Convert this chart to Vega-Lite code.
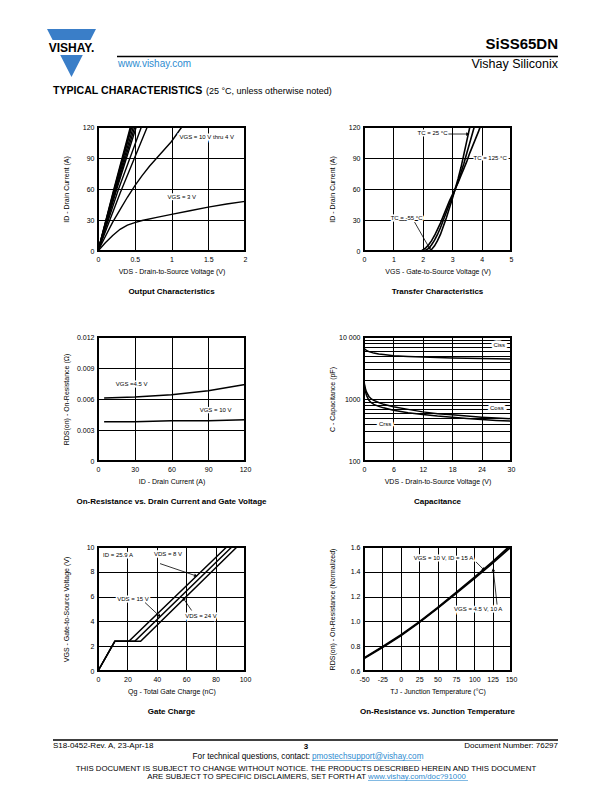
{
"$schema":"https://vega.github.io/schema/vega-lite/v6.json",
"autosize":{"type":"pad"},
"padding":{"left":47,"top":27,"right":10,"bottom":4},
"config":{
 "font":"Liberation Sans",
 "view":{"stroke":"black","strokeWidth":2},
 "axis":{"grid":true,"gridColor":"black","gridWidth":1,"gridOpacity":1,"domain":false,"ticks":false,"labelFontSize":7,"labelColor":"black","labelFont":"Liberation Sans","labelOverlap":false,"labelFlush":false,"titleFontSize":7,"titleFontWeight":"normal","titleColor":"black","titleFont":"Liberation Sans","labelPadding":4},
 "axisX":{"titleY":16},
 "axisY":{"titleX":-29},
 "title":{"orient":"bottom","fontSize":8,"fontWeight":"bold","color":"black","offset":14,"anchor":"middle","font":"Liberation Sans"},
 "text":{"color":"black"}
},
"datasets":{
 "output":[
  {"vds":0,"id":0,"s":"10"},{"vds":0.22,"id":61,"s":"10"},{"vds":0.44,"id":120,"s":"10"},
  {"vds":0,"id":0,"s":"9"},{"vds":0.225,"id":61,"s":"9"},{"vds":0.45,"id":120,"s":"9"},
  {"vds":0,"id":0,"s":"8"},{"vds":0.23,"id":61,"s":"8"},{"vds":0.46,"id":120,"s":"8"},
  {"vds":0,"id":0,"s":"7"},{"vds":0.24,"id":61,"s":"7"},{"vds":0.48,"id":120,"s":"7"},
  {"vds":0,"id":0,"s":"6"},{"vds":0.25,"id":61,"s":"6"},{"vds":0.5,"id":120,"s":"6"},
  {"vds":0,"id":0,"s":"5.5"},{"vds":0.26,"id":61,"s":"5.5"},{"vds":0.52,"id":120,"s":"5.5"},
  {"vds":0,"id":0,"s":"5"},{"vds":0.28,"id":60,"s":"5"},{"vds":0.59,"id":120,"s":"5"},
  {"vds":0,"id":0,"s":"4.5"},{"vds":0.3,"id":56,"s":"4.5"},{"vds":0.67,"id":120,"s":"4.5"},
  {"vds":0,"id":0,"s":"4"},{"vds":0.1,"id":14,"s":"4"},{"vds":0.2,"id":28,"s":"4"},{"vds":0.3,"id":40,"s":"4"},{"vds":0.4,"id":52,"s":"4"},{"vds":0.5,"id":63,"s":"4"},{"vds":0.6,"id":73,"s":"4"},{"vds":0.7,"id":82,"s":"4"},{"vds":0.8,"id":90,"s":"4"},{"vds":0.9,"id":98,"s":"4"},{"vds":1.0,"id":106,"s":"4"},{"vds":1.14,"id":120,"s":"4"},
  {"vds":0,"id":0,"s":"3"},{"vds":0.1,"id":8,"s":"3"},{"vds":0.2,"id":15,"s":"3"},{"vds":0.3,"id":21,"s":"3"},{"vds":0.4,"id":25,"s":"3"},{"vds":0.5,"id":27.5,"s":"3"},{"vds":0.6,"id":29.5,"s":"3"},{"vds":0.8,"id":32.5,"s":"3"},{"vds":1.0,"id":35.5,"s":"3"},{"vds":1.25,"id":39,"s":"3"},{"vds":1.5,"id":42.5,"s":"3"},{"vds":1.75,"id":45.5,"s":"3"},{"vds":2.0,"id":48,"s":"3"}
 ],
 "outputLabels":[{"vds":1.48,"id":110,"t":"VGS = 10 V thru 4 V"},{"vds":1.14,"id":52.3,"t":"VGS = 3 V"}],
 "transfer":[
  {"vgs":2.2,"id":0,"tc":"-55"},{"vgs":2.3,"id":1.5,"tc":"-55"},{"vgs":2.4,"id":5,"tc":"-55"},{"vgs":2.5,"id":10,"tc":"-55"},{"vgs":2.6,"id":16,"tc":"-55"},{"vgs":2.7,"id":24,"tc":"-55"},{"vgs":2.8,"id":32,"tc":"-55"},{"vgs":2.9,"id":41,"tc":"-55"},{"vgs":3.0,"id":50,"tc":"-55"},{"vgs":3.1,"id":60,"tc":"-55"},{"vgs":3.2,"id":70,"tc":"-55"},{"vgs":3.3,"id":81,"tc":"-55"},{"vgs":3.4,"id":94,"tc":"-55"},{"vgs":3.5,"id":107,"tc":"-55"},{"vgs":3.6,"id":120,"tc":"-55"},
  {"vgs":2.05,"id":0,"tc":"25"},{"vgs":2.2,"id":2.5,"tc":"25"},{"vgs":2.3,"id":6,"tc":"25"},{"vgs":2.4,"id":10.5,"tc":"25"},{"vgs":2.5,"id":16,"tc":"25"},{"vgs":2.6,"id":22.5,"tc":"25"},{"vgs":2.7,"id":30,"tc":"25"},{"vgs":2.8,"id":37.5,"tc":"25"},{"vgs":2.9,"id":45,"tc":"25"},{"vgs":3.0,"id":52,"tc":"25"},{"vgs":3.1,"id":59.5,"tc":"25"},{"vgs":3.2,"id":67,"tc":"25"},{"vgs":3.3,"id":76,"tc":"25"},{"vgs":3.4,"id":85,"tc":"25"},{"vgs":3.5,"id":95,"tc":"25"},{"vgs":3.6,"id":105,"tc":"25"},{"vgs":3.75,"id":120,"tc":"25"},
  {"vgs":1.95,"id":0,"tc":"125"},{"vgs":2.1,"id":3,"tc":"125"},{"vgs":2.2,"id":6,"tc":"125"},{"vgs":2.3,"id":10,"tc":"125"},{"vgs":2.4,"id":15,"tc":"125"},{"vgs":2.5,"id":21,"tc":"125"},{"vgs":2.6,"id":27,"tc":"125"},{"vgs":2.7,"id":34,"tc":"125"},{"vgs":2.8,"id":41,"tc":"125"},{"vgs":2.9,"id":48,"tc":"125"},{"vgs":3.0,"id":54,"tc":"125"},{"vgs":3.1,"id":60,"tc":"125"},{"vgs":3.2,"id":66,"tc":"125"},{"vgs":3.3,"id":73,"tc":"125"},{"vgs":3.4,"id":80,"tc":"125"},{"vgs":3.5,"id":87,"tc":"125"},{"vgs":3.6,"id":95,"tc":"125"},{"vgs":3.7,"id":102,"tc":"125"},{"vgs":3.8,"id":109,"tc":"125"},{"vgs":3.9,"id":116,"tc":"125"},{"vgs":3.95,"id":120,"tc":"125"}
 ],
 "transferLabels":[{"vgs":2.33,"id":114.2,"t":"TC = 25 °C"},{"vgs":4.29,"id":90,"t":"TC = 125 °C"},{"vgs":1.45,"id":32,"t":"TC = -55 °C"}],
 "transferArrows":[{"vgs":2.87,"id":113.2,"vgs2":3.5,"id2":113.2},{"vgs":1.72,"id":28,"vgs2":2.22,"id2":3}],
 "transferHeads":[{"vgs":3.53,"id":113.2,"ang":90},{"vgs":2.24,"id":2.5,"ang":153}],
 "rdson":[
  {"i":5,"r":0.0061,"g":"4.5"},{"i":30,"r":0.0062,"g":"4.5"},{"i":60,"r":0.0064,"g":"4.5"},{"i":90,"r":0.0068,"g":"4.5"},{"i":120,"r":0.0074,"g":"4.5"},
  {"i":5,"r":0.0038,"g":"10"},{"i":30,"r":0.0038,"g":"10"},{"i":60,"r":0.0039,"g":"10"},{"i":90,"r":0.0039,"g":"10"},{"i":120,"r":0.0040,"g":"10"}
 ],
 "rdsonLabels":[{"i":27.5,"r":0.00742,"t":"VGS =4.5 V"},{"i":96,"r":0.00496,"t":"VGS = 10 V"}],
 "cap":[
  {"v":0,"c":6500,"k":"Ciss"},{"v":0.5,"c":6100,"k":"Ciss"},{"v":1,"c":5800,"k":"Ciss"},{"v":2,"c":5500,"k":"Ciss"},{"v":3,"c":5300,"k":"Ciss"},{"v":4,"c":5200,"k":"Ciss"},{"v":6,"c":5000,"k":"Ciss"},{"v":9,"c":4850,"k":"Ciss"},{"v":12,"c":4750,"k":"Ciss"},{"v":15,"c":4650,"k":"Ciss"},{"v":18,"c":4600,"k":"Ciss"},{"v":21,"c":4550,"k":"Ciss"},{"v":24,"c":4500,"k":"Ciss"},{"v":27,"c":4450,"k":"Ciss"},{"v":30,"c":4400,"k":"Ciss"},
  {"v":0,"c":1900,"k":"Coss"},{"v":0.25,"c":1500,"k":"Coss"},{"v":0.5,"c":1300,"k":"Coss"},{"v":1,"c":1100,"k":"Coss"},{"v":1.5,"c":1000,"k":"Coss"},{"v":2,"c":950,"k":"Coss"},{"v":3,"c":880,"k":"Coss"},{"v":4,"c":820,"k":"Coss"},{"v":6,"c":750,"k":"Coss"},{"v":9,"c":680,"k":"Coss"},{"v":12,"c":620,"k":"Coss"},{"v":15,"c":580,"k":"Coss"},{"v":18,"c":555,"k":"Coss"},{"v":21,"c":530,"k":"Coss"},{"v":24,"c":510,"k":"Coss"},{"v":27,"c":495,"k":"Coss"},{"v":30,"c":480,"k":"Coss"},
  {"v":0,"c":1800,"k":"Crss"},{"v":0.25,"c":1350,"k":"Crss"},{"v":0.5,"c":1150,"k":"Crss"},{"v":1,"c":950,"k":"Crss"},{"v":1.5,"c":870,"k":"Crss"},{"v":2,"c":820,"k":"Crss"},{"v":3,"c":760,"k":"Crss"},{"v":4,"c":720,"k":"Crss"},{"v":6,"c":660,"k":"Crss"},{"v":9,"c":600,"k":"Crss"},{"v":12,"c":560,"k":"Crss"},{"v":15,"c":530,"k":"Crss"},{"v":18,"c":510,"k":"Crss"},{"v":21,"c":485,"k":"Crss"},{"v":24,"c":465,"k":"Crss"},{"v":27,"c":450,"k":"Crss"},{"v":30,"c":440,"k":"Crss"}
 ],
 "capLabels":[{"v":27.6,"c":7350,"t":"Ciss"},{"v":27.1,"c":724,"t":"Coss"},{"v":4.3,"c":391,"t":"Crss"}],
 "gate":[
  {"q":0,"g":0,"d":"8"},{"q":11.5,"g":2.4,"d":"8"},{"q":21,"g":2.4,"d":"8"},{"q":87.5,"g":10,"d":"8"},
  {"q":0,"g":0,"d":"15"},{"q":11.5,"g":2.4,"d":"15"},{"q":25,"g":2.4,"d":"15"},{"q":91,"g":10,"d":"15"},
  {"q":0,"g":0,"d":"24"},{"q":11.5,"g":2.4,"d":"24"},{"q":29,"g":2.4,"d":"24"},{"q":94.5,"g":10,"d":"24"}
 ],
 "gateLabels":[{"q":13.6,"g":9.36,"t":"ID = 25.9 A"},{"q":47.6,"g":9.44,"t":"VDS = 8 V"},{"q":23.8,"g":5.84,"t":"VDS = 15 V"},{"q":70,"g":4.4,"t":"VDS = 24 V"}],
 "gateArrows":[{"q":42.2,"g":8.66,"q2":65.5,"g2":7.72},{"q":32,"g":5.52,"q2":41.2,"g2":4.5},{"q":63.7,"g":4.88,"q2":58.6,"g2":5.76}],
 "gateHeads":[{"q":66.5,"g":7.68,"ang":109},{"q":41.8,"g":4.44,"ang":133},{"q":58.2,"g":5.83,"ang":-34}],
 "temp":[
  {"tj":-50,"rn":0.70,"c":"10V"},{"tj":-25,"rn":0.79,"c":"10V"},{"tj":0,"rn":0.885,"c":"10V"},{"tj":25,"rn":0.99,"c":"10V"},{"tj":50,"rn":1.105,"c":"10V"},{"tj":75,"rn":1.225,"c":"10V"},{"tj":100,"rn":1.345,"c":"10V"},{"tj":125,"rn":1.47,"c":"10V"},{"tj":150,"rn":1.6,"c":"10V"},
  {"tj":-50,"rn":0.705,"c":"4.5V"},{"tj":-25,"rn":0.795,"c":"4.5V"},{"tj":0,"rn":0.89,"c":"4.5V"},{"tj":25,"rn":0.995,"c":"4.5V"},{"tj":50,"rn":1.11,"c":"4.5V"},{"tj":75,"rn":1.232,"c":"4.5V"},{"tj":100,"rn":1.355,"c":"4.5V"},{"tj":125,"rn":1.482,"c":"4.5V"},{"tj":147,"rn":1.6,"c":"4.5V"}
 ],
 "tempLabels":[{"tj":58,"rn":1.512,"t":"VGS = 10 V, ID = 15 A"},{"tj":105.4,"rn":1.096,"t":"VGS = 4.5 V, 10 A"}],
 "tempArrows":[{"tj":102.3,"rn":1.48,"tj2":112.5,"rn2":1.42},{"tj":131,"rn":1.136,"tj2":126,"rn2":1.41}],
 "tempHeads":[{"tj":113,"rn":1.418,"ang":134},{"tj":125.8,"rn":1.416,"ang":-6.5}]
},
"columns":2,
"spacing":{"row":86,"column":119},
"bounds":"flush",
"concat":[
 {
  "width":147,"height":14,"view":{"stroke":null},
  "encoding":{
   "x":{"field":"x","type":"quantitative","scale":{"domain":[0,147],"nice":false,"zero":false},"axis":null},
   "y":{"field":"y","type":"quantitative","scale":{"domain":[0,14],"nice":false,"zero":false,"reverse":true},"axis":null}
  },
  "layer":[
   {"data":{"values":[{"x":-26.5,"y":26}]},"mark":{"type":"point","filled":true,"opacity":1,"color":"#3a7ec8","strokeWidth":0,"size":2401,"shape":"M-1,-0.98L1,-0.98L0.77,-0.53L-0.77,-0.53Z M-0.46,0.08L0.46,0.08L0,0.98Z"}},
   {"data":{"values":[{"x":-26.5,"y":25,"t":"VISHAY."}]},"mark":{"type":"text","fontSize":12,"fontWeight":"bold","align":"center","baseline":"alphabetic"},"encoding":{"text":{"field":"t"}}},
   {"data":{"values":[{"x":19,"x2":460,"y":29.5}]},"mark":{"type":"rule","strokeWidth":1.5,"color":"black"},"encoding":{"x2":{"field":"x2"}}},
   {"data":{"values":[{"x":20,"y":39.5,"t":"www.vishay.com"}]},"mark":{"type":"text","fontSize":10,"color":"#2e8bd0","align":"left","baseline":"alphabetic"},"encoding":{"text":{"field":"t"}}},
   {"data":{"values":[{"x":-45,"y":67,"t":"TYPICAL CHARACTERISTICS"}]},"mark":{"type":"text","fontSize":10.6,"fontWeight":"bold","align":"left","baseline":"alphabetic"},"encoding":{"text":{"field":"t"}}},
   {"data":{"values":[{"x":108,"y":67,"t":"(25 °C, unless otherwise noted)"}]},"mark":{"type":"text","fontSize":9,"align":"left","baseline":"alphabetic"},"encoding":{"text":{"field":"t"}}}
  ]
 },
 {
  "width":147,"height":14,"view":{"stroke":null},
  "encoding":{
   "x":{"field":"x","type":"quantitative","scale":{"domain":[0,147],"nice":false,"zero":false},"axis":null},
   "y":{"field":"y","type":"quantitative","scale":{"domain":[0,14],"nice":false,"zero":false,"reverse":true},"axis":null}
  },
  "layer":[
   {"data":{"values":[{"x":194,"y":22,"t":"SiSS65DN"}]},"mark":{"type":"text","fontSize":15,"fontWeight":"bold","align":"right","baseline":"alphabetic"},"encoding":{"text":{"field":"t"}}},
   {"data":{"values":[{"x":194,"y":40.5,"t":"Vishay Siliconix"}]},"mark":{"type":"text","fontSize":12.5,"align":"right","baseline":"alphabetic"},"encoding":{"text":{"field":"t"}}}
  ]
 },
 {
  "width":147,"height":124,"title":"Output Characteristics",
  "encoding":{
   "x":{"field":"vds","type":"quantitative","scale":{"domain":[0,2],"nice":false},"axis":{"values":[0,0.5,1,1.5,2],"labelExpr":"datum.value + ''","title":"VDS - Drain-to-Source Voltage (V)"}},
   "y":{"field":"id","type":"quantitative","scale":{"domain":[0,120],"nice":false},"axis":{"values":[0,30,60,90,120],"title":"ID - Drain Current (A)"}}
  },
  "layer":[
   {"data":{"name":"output"},"mark":{"type":"line","strokeWidth":1.4,"color":"black"},"encoding":{"detail":{"field":"s"}}},
   {"data":{"name":"outputLabels"},"mark":{"type":"text","fontSize":6,"fill":"white","stroke":"white","strokeWidth":3},"encoding":{"text":{"field":"t"}}},
   {"data":{"name":"outputLabels"},"mark":{"type":"text","fontSize":6,"color":"black"},"encoding":{"text":{"field":"t"}}}
  ]
 },
 {
  "width":147,"height":124,"title":"Transfer Characteristics",
  "encoding":{
   "x":{"field":"vgs","type":"quantitative","scale":{"domain":[0,5],"nice":false},"axis":{"values":[0,1,2,3,4,5],"title":"VGS - Gate-to-Source Voltage (V)"}},
   "y":{"field":"id","type":"quantitative","scale":{"domain":[0,120],"nice":false},"axis":{"values":[0,30,60,90,120],"title":"ID - Drain Current (A)"}}
  },
  "layer":[
   {"data":{"name":"transfer"},"mark":{"type":"line","strokeWidth":1.6,"color":"black"},"encoding":{"detail":{"field":"tc"}}},
   {"data":{"name":"transferLabels"},"mark":{"type":"text","fontSize":6,"fill":"white","stroke":"white","strokeWidth":3},"encoding":{"text":{"field":"t"}}},
   {"data":{"name":"transferLabels"},"mark":{"type":"text","fontSize":6,"color":"black"},"encoding":{"text":{"field":"t"}}},
   {"data":{"name":"transferArrows"},"mark":{"type":"rule","color":"black","strokeWidth":0.8},"encoding":{"x2":{"field":"vgs2"},"y2":{"field":"id2"}}},
   {"data":{"name":"transferHeads"},"mark":{"type":"point","shape":"triangle-up","filled":true,"opacity":1,"color":"black","size":14},"encoding":{"angle":{"field":"ang","type":"quantitative","scale":null}}}
  ]
 },
 {
  "width":147,"height":124,"title":"On-Resistance vs. Drain Current and Gate Voltage",
  "encoding":{
   "x":{"field":"i","type":"quantitative","scale":{"domain":[0,120],"nice":false},"axis":{"values":[0,30,60,90,120],"title":"ID - Drain Current (A)"}},
   "y":{"field":"r","type":"quantitative","scale":{"domain":[0,0.012],"nice":false},"axis":{"values":[0,0.003,0.006,0.009,0.012],"labelExpr":"datum.value == 0 ? '0' : format(datum.value, '.3f')","title":"RDS(on) - On-Resistance (Ω)"}}
  },
  "layer":[
   {"data":{"name":"rdson"},"mark":{"type":"line","strokeWidth":1.5,"color":"black"},"encoding":{"detail":{"field":"g"}}},
   {"data":{"name":"rdsonLabels"},"mark":{"type":"text","fontSize":6,"fill":"white","stroke":"white","strokeWidth":3},"encoding":{"text":{"field":"t"}}},
   {"data":{"name":"rdsonLabels"},"mark":{"type":"text","fontSize":6,"color":"black"},"encoding":{"text":{"field":"t"}}}
  ]
 },
 {
  "width":147,"height":124,"title":"Capacitance",
  "encoding":{
   "x":{"field":"v","type":"quantitative","scale":{"domain":[0,30],"nice":false},"axis":{"values":[0,6,12,18,24,30],"title":"VDS - Drain-to-Source Voltage (V)"}},
   "y":{"field":"c","type":"quantitative","scale":{"type":"log","domain":[100,10000],"nice":false},"axis":{"values":[100,200,300,400,500,600,700,800,900,1000,2000,3000,4000,5000,6000,7000,8000,9000,10000],"labelExpr":"datum.value == 10000 ? '10 000' : (datum.value == 1000 || datum.value == 100) ? '' + datum.value : ''","title":"C - Capacitance (pF)"}}
  },
  "layer":[
   {"data":{"name":"cap"},"mark":{"type":"line","strokeWidth":1.5,"color":"black"},"encoding":{"detail":{"field":"k"}}},
   {"data":{"name":"capLabels"},"mark":{"type":"text","fontSize":6,"fill":"white","stroke":"white","strokeWidth":5},"encoding":{"text":{"field":"t"}}},
   {"data":{"name":"capLabels"},"mark":{"type":"text","fontSize":6,"color":"black"},"encoding":{"text":{"field":"t"}}}
  ]
 },
 {
  "width":147,"height":124,"title":"Gate Charge",
  "encoding":{
   "x":{"field":"q","type":"quantitative","scale":{"domain":[0,100],"nice":false},"axis":{"values":[0,20,40,60,80,100],"title":"Qg - Total Gate Charge (nC)"}},
   "y":{"field":"g","type":"quantitative","scale":{"domain":[0,10],"nice":false},"axis":{"values":[0,2,4,6,8,10],"title":"VGS - Gate-to-Source Voltage (V)"}}
  },
  "layer":[
   {"data":{"name":"gate"},"mark":{"type":"line","strokeWidth":1.5,"color":"black"},"encoding":{"detail":{"field":"d"}}},
   {"data":{"name":"gateLabels"},"mark":{"type":"text","fontSize":6,"fill":"white","stroke":"white","strokeWidth":3},"encoding":{"text":{"field":"t"}}},
   {"data":{"name":"gateLabels"},"mark":{"type":"text","fontSize":6,"color":"black"},"encoding":{"text":{"field":"t"}}},
   {"data":{"name":"gateArrows"},"mark":{"type":"rule","color":"black","strokeWidth":0.8},"encoding":{"x2":{"field":"q2"},"y2":{"field":"g2"}}},
   {"data":{"name":"gateHeads"},"mark":{"type":"point","shape":"triangle-up","filled":true,"opacity":1,"color":"black","size":14},"encoding":{"angle":{"field":"ang","type":"quantitative","scale":null}}}
  ]
 },
 {
  "width":147,"height":124,"title":"On-Resistance vs. Junction Temperature",
  "encoding":{
   "x":{"field":"tj","type":"quantitative","scale":{"domain":[-50,150],"nice":false,"zero":false},"axis":{"values":[-50,-25,0,25,50,75,100,125,150],"labelExpr":"datum.value + ''","title":"TJ - Junction Temperature (°C)"}},
   "y":{"field":"rn","type":"quantitative","scale":{"domain":[0.6,1.6],"nice":false,"zero":false},"axis":{"values":[0.6,0.8,1.0,1.2,1.4,1.6],"format":".1f","title":"RDS(on) - On-Resistance (Normalized)"}}
  },
  "layer":[
   {"data":{"name":"temp"},"mark":{"type":"line","strokeWidth":1.8,"color":"black"},"encoding":{"detail":{"field":"c"}}},
   {"data":{"name":"tempLabels"},"mark":{"type":"text","fontSize":6,"fill":"white","stroke":"white","strokeWidth":3},"encoding":{"text":{"field":"t"}}},
   {"data":{"name":"tempLabels"},"mark":{"type":"text","fontSize":6,"color":"black"},"encoding":{"text":{"field":"t"}}},
   {"data":{"name":"tempArrows"},"mark":{"type":"rule","color":"black","strokeWidth":0.8},"encoding":{"x2":{"field":"tj2"},"y2":{"field":"rn2"}}},
   {"data":{"name":"tempHeads"},"mark":{"type":"point","shape":"triangle-up","filled":true,"opacity":1,"color":"black","size":14},"encoding":{"angle":{"field":"ang","type":"quantitative","scale":null}}}
  ]
 },
 {
  "width":147,"height":30,"view":{"stroke":null},
  "encoding":{
   "x":{"field":"x","type":"quantitative","scale":{"domain":[0,147],"nice":false,"zero":false},"axis":null},
   "y":{"field":"y","type":"quantitative","scale":{"domain":[0,30],"nice":false,"zero":false,"reverse":true},"axis":null}
  },
  "layer":[
   {"data":{"values":[{"x":-45,"x2":460,"y":-17}]},"mark":{"type":"rule","strokeWidth":1.5,"color":"black"},"encoding":{"x2":{"field":"x2"}}},
   {"data":{"values":[{"x":-45,"y":-9,"t":"S18-0452-Rev. A, 23-Apr-18"}]},"mark":{"type":"text","fontSize":8,"align":"left","baseline":"alphabetic"},"encoding":{"text":{"field":"t"}}},
   {"data":{"values":[{"x":208,"y":-8,"t":"3"}]},"mark":{"type":"text","fontSize":8,"fontWeight":"bold","align":"center","baseline":"alphabetic"},"encoding":{"text":{"field":"t"}}},
   {"data":{"values":[{"x":460,"y":-9,"t":"Document Number: 76297"}]},"mark":{"type":"text","fontSize":8,"align":"right","baseline":"alphabetic"},"encoding":{"text":{"field":"t"}}},
   {"data":{"values":[{"x":212,"y":2,"t":"For technical questions, contact: "}]},"mark":{"type":"text","fontSize":8.2,"align":"right","baseline":"alphabetic"},"encoding":{"text":{"field":"t"}}},
   {"data":{"values":[{"x":214,"y":2,"t":"pmostechsupport@vishay.com"}]},"mark":{"type":"text","fontSize":8.2,"color":"#2e8bd0","align":"left","baseline":"alphabetic"},"encoding":{"text":{"field":"t"}}},
   {"data":{"values":[{"x":214,"x2":323,"y":3.5}]},"mark":{"type":"rule","strokeWidth":0.6,"color":"#2e8bd0"},"encoding":{"x2":{"field":"x2"}}},
   {"data":{"values":[{"x":208,"y":14,"t":"THIS DOCUMENT IS SUBJECT TO CHANGE WITHOUT NOTICE. THE PRODUCTS DESCRIBED HEREIN AND THIS DOCUMENT"}]},"mark":{"type":"text","fontSize":7.8,"align":"center","baseline":"alphabetic"},"encoding":{"text":{"field":"t"}}},
   {"data":{"values":[{"x":268,"y":22,"t":"ARE SUBJECT TO SPECIFIC DISCLAIMERS, SET FORTH AT "}]},"mark":{"type":"text","fontSize":7.8,"align":"right","baseline":"alphabetic"},"encoding":{"text":{"field":"t"}}},
   {"data":{"values":[{"x":270,"y":22,"t":"www.vishay.com/doc?91000"}]},"mark":{"type":"text","fontSize":7.8,"color":"#2e8bd0","align":"left","baseline":"alphabetic"},"encoding":{"text":{"field":"t"}}},
   {"data":{"values":[{"x":270,"x2":370,"y":23.5}]},"mark":{"type":"rule","strokeWidth":0.6,"color":"#2e8bd0"},"encoding":{"x2":{"field":"x2"}}}
  ]
 }
]
}
